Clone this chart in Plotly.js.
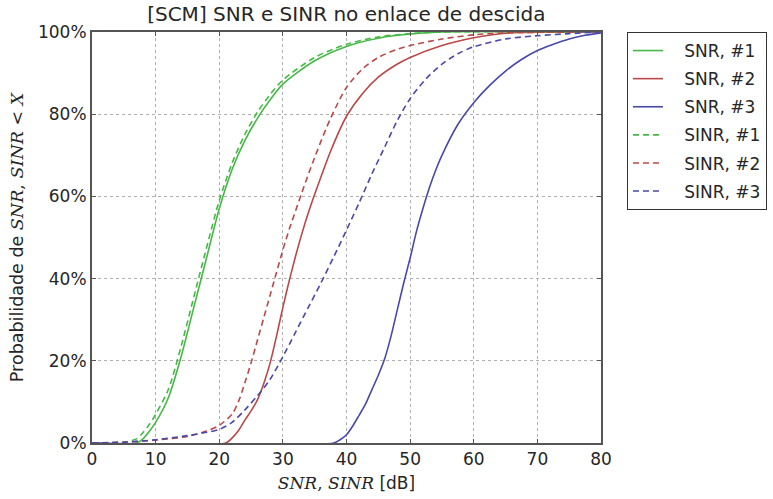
<!DOCTYPE html>
<html>
<head>
<meta charset="utf-8">
<script src="https://cdn.plot.ly/plotly-3.0.1.min.js"></script>
<style>html,body{margin:0;padding:0;background:#fff;}#chart{width:773px;height:499px;}</style>
</head>
<body>
<div id="chart"></div>
<script>
// SNR, #1
const snr1X = [0, 7, 8, 9, 10, 12, 14, 16, 18, 20, 22, 24, 26, 28, 30, 35, 40, 45, 50, 55, 80];
const snr1Y = [0, 0, 1, 2.8, 5, 11, 21, 33, 45, 57, 66.5, 73.5, 79, 83.5, 87.3, 93, 96.5, 98.5, 99.5, 100, 100];
// SNR, #2
const snr2X = [0, 21, 22, 23, 24, 25, 26, 27, 28, 29, 30, 31, 32, 33, 34, 35, 37.5, 40, 42.5, 45, 48, 50, 55, 60, 65, 80];
const snr2Y = [0, 0, 1.2, 3, 5.5, 7.8, 10.5, 14.5, 19.5, 26, 33, 39.5, 45.5, 51, 56, 60.5, 71, 79.5, 85, 89, 92.2, 93.8, 96.7, 98.6, 99.7, 100];
// SNR, #3
const snr3X = [0, 38, 39, 40, 41, 42, 43, 44, 45, 46, 47, 48, 49, 50, 51, 52, 53, 54, 55, 57.5, 60, 62.5, 65, 67.5, 70, 72.5, 75, 77.5, 80];
const snr3Y = [0, 0, 0.8, 2, 4.2, 6.8, 9.5, 13, 16.5, 20.5, 26, 32.5, 39, 45, 51.5, 57, 62, 66.3, 70, 77.5, 82.8, 87, 90.5, 93.3, 95.5, 97, 98.3, 99.2, 99.8];
// SINR, #1
const sinr1X = [0, 5, 6, 7, 8, 9, 10, 12, 14, 16, 18, 20, 22, 24, 26, 28, 30, 35, 40, 45, 50, 55, 80];
const sinr1Y = [0, 0.2, 0.5, 1, 2.5, 4.5, 7, 13, 23.5, 35.5, 47.5, 59, 68, 75, 80.5, 84.8, 88.3, 93.8, 97, 98.8, 99.6, 100, 100];
// SINR, #2
const sinr2X = [0, 5, 10, 15, 18, 20, 22, 23, 24, 25, 26, 27, 28, 29, 30, 31, 32, 33, 35, 37.5, 40, 42.5, 45, 48, 50, 55, 60, 65, 80];
const sinr2Y = [0, 0.2, 0.7, 1.6, 2.9, 4.3, 7, 10, 14.5, 19.5, 25, 30.5, 36, 41.5, 47, 52, 56.5, 61, 69.5, 79, 86.5, 91, 93.8, 95.8, 96.7, 98.3, 99.3, 99.8, 100];
// SINR, #3
const sinr3X = [0, 5, 10, 15, 18, 20, 22, 24, 26, 28, 30, 32, 34, 36, 38, 40, 42, 44, 46, 48, 50, 52.5, 55, 57.5, 60, 65, 70, 75, 80];
const sinr3Y = [0, 0.2, 0.8, 1.8, 2.6, 3.3, 5, 8, 11.5, 15.5, 21, 27, 33, 39, 45.3, 51.8, 58.5, 65.5, 72, 78.5, 83.8, 88.6, 92.2, 94.7, 96.4, 98.3, 99.1, 99.6, 100];

const xTicks = [0, 10, 20, 30, 40, 50, 60, 70, 80];
const yTicks = [0, 20, 40, 60, 80, 100];

const GREEN = '#46b846', RED = '#bb4848', BLUE = '#4848ad';
const dash = '6px,4px';
const pad = '\u00a0\u00a0\u00a0';

function tr(x, y, name, color, d, g) {
  return {x: x, y: y, name: pad + name, type: 'scatter', mode: 'lines',
    line: {color: color, width: 1.6, dash: d, shape: 'spline', smoothing: 0.8},
    legendgroup: g};
}
const data = [
  tr(snr1X, snr1Y, 'SNR, #1', GREEN, 'solid', 'a'),
  tr(snr2X, snr2Y, 'SNR, #2', RED, 'solid', 'b'),
  tr(snr3X, snr3Y, 'SNR, #3', BLUE, 'solid', 'c'),
  tr(sinr1X, sinr1Y, 'SINR, #1', GREEN, dash, 'd'),
  tr(sinr2X, sinr2Y, 'SINR, #2', RED, dash, 'e'),
  tr(sinr3X, sinr3Y, 'SINR, #3', BLUE, dash, 'f')
];

const serif = "<span style=\"font-family:'DejaVu Serif'\">";
const layout = {
  width: 773, height: 499,
  margin: {l: 92, r: 172, t: 32, b: 56, autoexpand: false},
  paper_bgcolor: '#fff', plot_bgcolor: '#fff',
  font: {family: 'DejaVu Sans', size: 17, color: '#262626'},
  showlegend: true,
  title: {text: '[SCM] SNR e SINR no enlace de descida', font: {size: 20, color: '#262626'},
    x: 0.448, xanchor: 'center', y: 0.972, yanchor: 'middle'},
  xaxis: {range: [0, 80], tickvals: xTicks, ticktext: xTicks.map(String),
    showgrid: true, gridcolor: '#b0b0b0', griddash: 'dot', gridwidth: 1,
    zeroline: false, showline: true, mirror: 'ticks', linecolor: '#555', linewidth: 2,
    ticks: 'inside', ticklen: 4, tickcolor: '#555', tickfont: {size: 17},
    title: {text: serif + '<i>SNR</i>, <i>SINR</i></span> [dB]', font: {size: 17}, standoff: 9}},
  yaxis: {range: [0, 100], tickvals: yTicks, ticktext: yTicks.map(v => v + '%'),
    showgrid: true, gridcolor: '#b0b0b0', griddash: 'dot', gridwidth: 1,
    zeroline: false, showline: true, mirror: 'ticks', linecolor: '#555', linewidth: 2,
    ticks: 'inside', ticklen: 4, tickcolor: '#555', tickfont: {size: 17},
    title: {text: 'Probabilidade de ' + serif + '<i>SNR</i>, <i>SINR</i> &lt; <i>X</i></span>', font: {size: 17.5}, standoff: 10}},
  legend: {x: 1.051, y: 1.0, xanchor: 'left', yanchor: 'top',
    bordercolor: '#333', borderwidth: 1, bgcolor: '#fff',
    font: {size: 17, color: '#262626'}, traceorder: 'grouped', tracegroupgap: 3}
};
Plotly.newPlot('chart', data, layout, {displayModeBar: false, staticPlot: true});
</script>
</body>
</html>
